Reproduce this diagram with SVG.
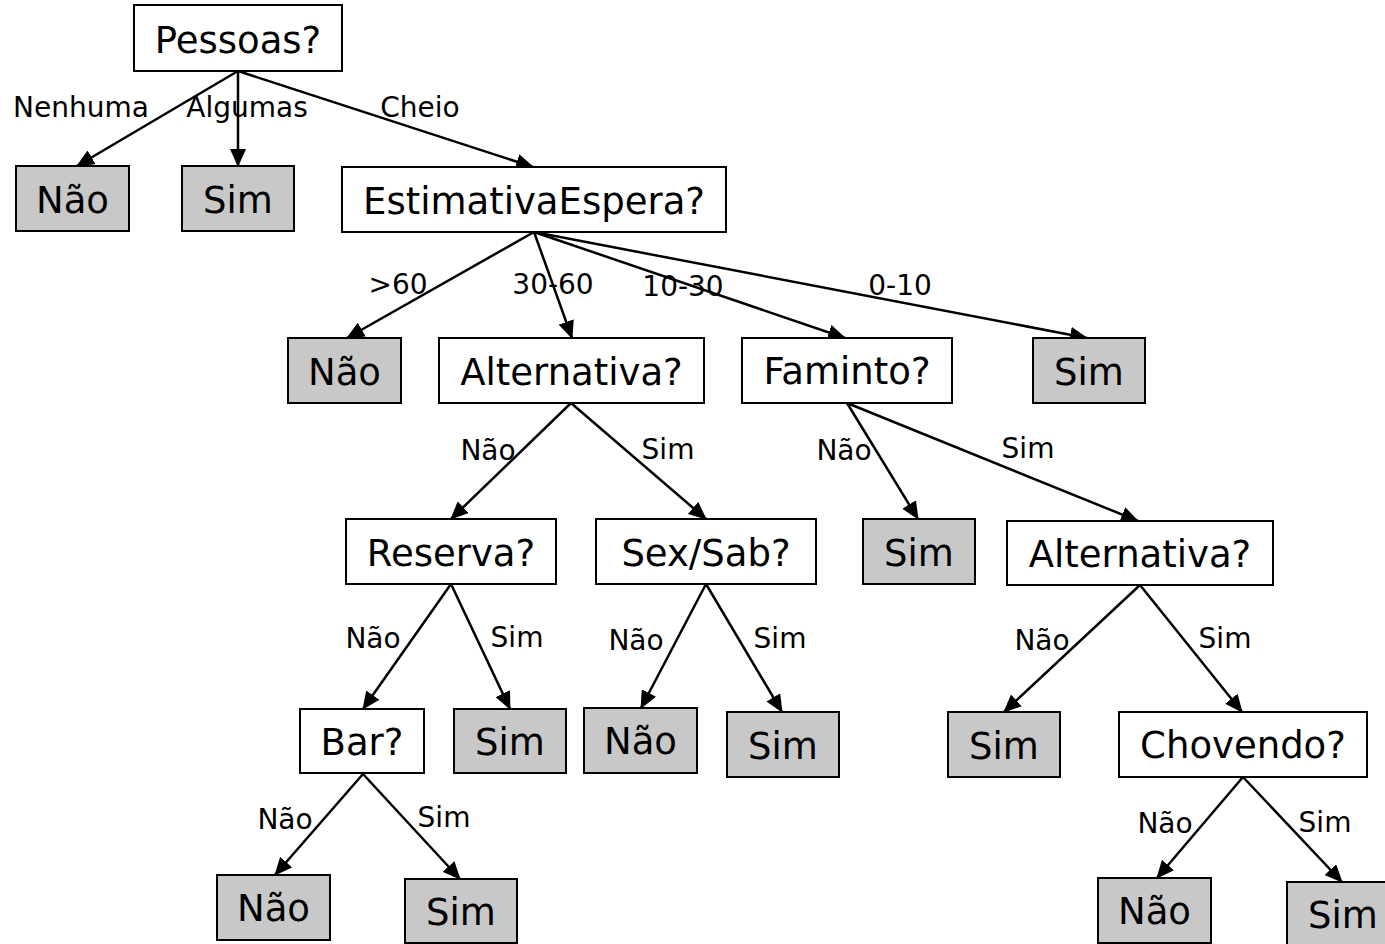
<svg xmlns="http://www.w3.org/2000/svg" width="1385" height="944" viewBox="0 0 1385 944">
<style>
.box{fill:#ffffff;stroke:#000;stroke-width:2}
.leaf{fill:#c8c8c8;stroke:#000;stroke-width:2}
.t{font-family:"DejaVu Sans",Verdana,sans-serif;font-size:37px;text-anchor:middle;fill:#000}
.l{font-family:"DejaVu Sans",Verdana,sans-serif;font-size:28px;text-anchor:middle;fill:#000}
.e{stroke:#000;stroke-width:2.5;fill:none;marker-end:url(#ah)}
</style>
<defs>
<marker id="ah" markerUnits="userSpaceOnUse" markerWidth="18" markerHeight="16" refX="17" refY="8" orient="auto" viewBox="0 0 18 16">
<path d="M0,0 L18,8 L0,16 z" fill="#000"/>
</marker>
</defs>
<rect width="1385" height="944" fill="#fff"/>
<g id="connectors">
<line class="e" x1="238" y1="71" x2="77" y2="166"/>
<line class="e" x1="238" y1="71" x2="238" y2="166"/>
<line class="e" x1="238" y1="71" x2="533" y2="167"/>
<line class="e" x1="534" y1="232" x2="347" y2="338"/>
<line class="e" x1="534" y1="232" x2="572" y2="338"/>
<line class="e" x1="534" y1="232" x2="845" y2="338"/>
<line class="e" x1="534" y1="232" x2="1087" y2="338"/>
<line class="e" x1="571" y1="403" x2="451" y2="519"/>
<line class="e" x1="571" y1="403" x2="706" y2="519"/>
<line class="e" x1="847" y1="403" x2="918" y2="519"/>
<line class="e" x1="847" y1="403" x2="1138" y2="521"/>
<line class="e" x1="451" y1="584" x2="363" y2="709"/>
<line class="e" x1="451" y1="584" x2="510" y2="709"/>
<line class="e" x1="706" y1="584" x2="641" y2="708"/>
<line class="e" x1="706" y1="584" x2="782" y2="712"/>
<line class="e" x1="1140" y1="585" x2="1004" y2="712"/>
<line class="e" x1="1140" y1="585" x2="1242" y2="712"/>
<line class="e" x1="363" y1="774" x2="275" y2="875"/>
<line class="e" x1="363" y1="774" x2="460" y2="879"/>
<line class="e" x1="1243" y1="777" x2="1157" y2="878"/>
<line class="e" x1="1243" y1="777" x2="1342" y2="882"/>
</g>
<g id="labels">
<text class="l" x="81" y="117">Nenhuma</text>
<text class="l" x="247" y="117">Algumas</text>
<text class="l" x="420" y="117">Cheio</text>
<text class="l" x="398" y="294">&gt;60</text>
<text class="l" x="553" y="294">30-60</text>
<text class="l" x="683" y="296">10-30</text>
<text class="l" x="900" y="295">0-10</text>
<text class="l" x="488" y="460">Não</text>
<text class="l" x="668" y="459">Sim</text>
<text class="l" x="844" y="460">Não</text>
<text class="l" x="1028" y="458">Sim</text>
<text class="l" x="373" y="648">Não</text>
<text class="l" x="517" y="647">Sim</text>
<text class="l" x="636" y="650">Não</text>
<text class="l" x="780" y="648">Sim</text>
<text class="l" x="1042" y="650">Não</text>
<text class="l" x="1225" y="648">Sim</text>
<text class="l" x="285" y="829">Não</text>
<text class="l" x="444" y="827">Sim</text>
<text class="l" x="1165" y="833">Não</text>
<text class="l" x="1325" y="832">Sim</text>
</g>
<g id="n-pessoas"><rect class="box" x="134" y="5" width="208" height="66"/><text class="t" x="238" y="53">Pessoas?</text></g>
<g id="n-nao1"><rect class="leaf" x="16" y="166" width="113" height="65"/><text class="t" x="72.5" y="213">Não</text></g>
<g id="n-sim1"><rect class="leaf" x="182" y="166" width="112" height="65"/><text class="t" x="238" y="213">Sim</text></g>
<g id="n-estimativa"><rect class="box" x="342" y="167" width="384" height="65"/><text class="t" x="534" y="214">EstimativaEspera?</text></g>
<g id="n-nao2"><rect class="leaf" x="288" y="338" width="113" height="65"/><text class="t" x="344.5" y="385">Não</text></g>
<g id="n-alternativa1"><rect class="box" x="439" y="338" width="265" height="65"/><text class="t" x="571.5" y="385">Alternativa?</text></g>
<g id="n-faminto"><rect class="box" x="742" y="338" width="210" height="65"/><text class="t" x="847" y="384">Faminto?</text></g>
<g id="n-sim2"><rect class="leaf" x="1033" y="338" width="112" height="65"/><text class="t" x="1089" y="385">Sim</text></g>
<g id="n-reserva"><rect class="box" x="346" y="519" width="210" height="65"/><text class="t" x="451" y="566">Reserva?</text></g>
<g id="n-sexsab"><rect class="box" x="596" y="519" width="220" height="65"/><text class="t" x="706" y="566">Sex/Sab?</text></g>
<g id="n-sim3"><rect class="leaf" x="863" y="519" width="112" height="65"/><text class="t" x="919" y="566">Sim</text></g>
<g id="n-alternativa2"><rect class="box" x="1007" y="521" width="266" height="64"/><text class="t" x="1140" y="567">Alternativa?</text></g>
<g id="n-bar"><rect class="box" x="300" y="709" width="124" height="64"/><text class="t" x="362" y="755">Bar?</text></g>
<g id="n-sim4"><rect class="leaf" x="454" y="709" width="112" height="64"/><text class="t" x="510" y="755">Sim</text></g>
<g id="n-nao3"><rect class="leaf" x="584" y="708" width="113" height="65"/><text class="t" x="640.5" y="754">Não</text></g>
<g id="n-sim5"><rect class="leaf" x="727" y="712" width="112" height="65"/><text class="t" x="783" y="759">Sim</text></g>
<g id="n-sim6"><rect class="leaf" x="948" y="712" width="112" height="65"/><text class="t" x="1004" y="759">Sim</text></g>
<g id="n-chovendo"><rect class="box" x="1119" y="712" width="248" height="65"/><text class="t" x="1243" y="758">Chovendo?</text></g>
<g id="n-nao4"><rect class="leaf" x="217" y="875" width="113" height="65"/><text class="t" x="273.5" y="921">Não</text></g>
<g id="n-sim7"><rect class="leaf" x="405" y="879" width="112" height="64"/><text class="t" x="461" y="925">Sim</text></g>
<g id="n-nao5"><rect class="leaf" x="1098" y="878" width="113" height="65"/><text class="t" x="1154.5" y="924">Não</text></g>
<g id="n-sim8"><rect class="leaf" x="1287" y="882" width="112" height="65"/><text class="t" x="1343" y="928">Sim</text></g>
</svg>
